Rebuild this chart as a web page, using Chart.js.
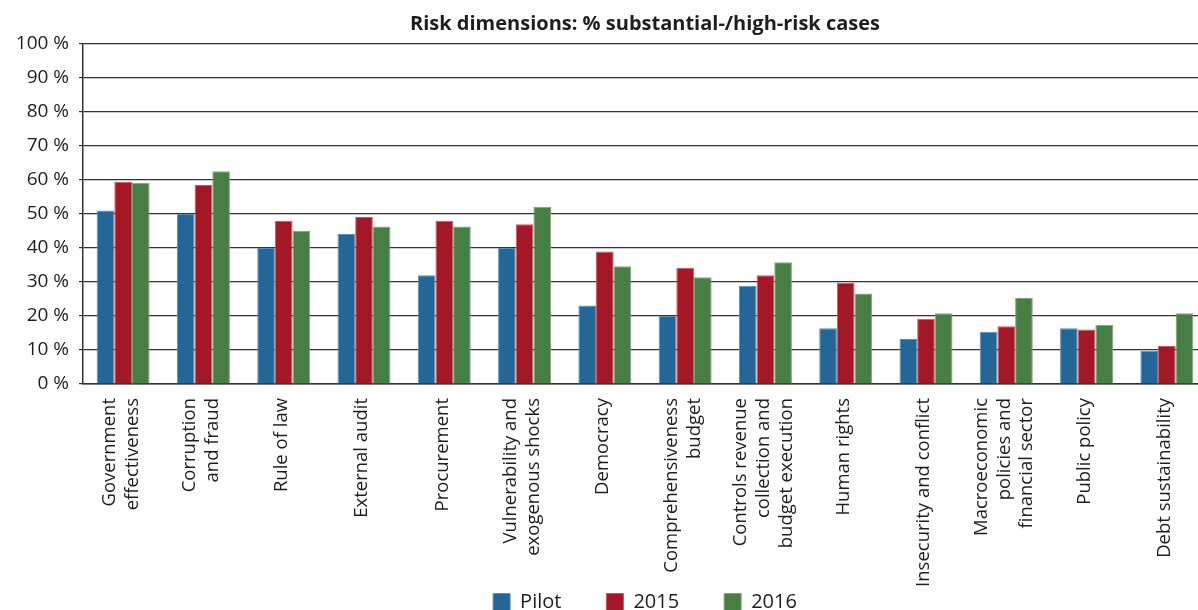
<!DOCTYPE html>
<html>
<head>
<meta charset="utf-8">
<script src="https://cdn.jsdelivr.net/npm/chart.js@4.4.1/dist/chart.umd.min.js"></script>
<style>
  html, body { margin: 0; padding: 0; overflow: hidden; background: #fff; }
  #wrap { width: 1210px; height: 622px; position: relative; }
</style>
</head>
<body>
<div id="wrap"><canvas id="risk-chart"></canvas></div>
<script>
const categories = [
  ['Government', 'effectiveness'],
  ['Corruption', 'and fraud'],
  'Rule of law',
  'External audit',
  'Procurement',
  ['Vulnerability and', 'exogenous shocks'],
  'Democracy',
  ['Comprehensiveness', 'budget'],
  ['Controls revenue', 'collection and', 'budget execution'],
  'Human rights',
  'Insecurity and conflict',
  ['Macroeconomic', 'policies and', 'financial sector'],
  'Public policy',
  'Debt sustainability'
];
const pilotValues = [51, 50, 40, 44.1, 32, 40, 23.1, 20, 28.9, 16.4, 13.2, 15.4, 16.4, 9.8];
const values2015 = [59.5, 58.5, 48, 49.1, 48, 47, 39, 34.2, 32, 29.8, 19.2, 17, 16, 11.2];
const values2016 = [59.2, 62.6, 45.1, 46.3, 46.3, 52.1, 34.6, 31.4, 35.8, 26.6, 20.8, 25.3, 17.4, 20.8];
const yMax = 100;
const yStep = 10;

Chart.defaults.font.family = "'Open Sans', sans-serif";
Chart.defaults.color = '#1e1e1e';

// rotated multi-line labels: centre the line block on the tick,
// and let the labels run down past the legend box instead of being clipped
const axisLabelFix = {
  id: 'axisLabelFix',
  afterLayout(chart) {
    chart.scales.x.bottom = chart.height;
  },
  beforeDraw(chart) {
    const items = chart.scales.x.getLabelItems(chart.chartArea);
    if (items._centred) return;
    items._centred = true;
    items.forEach(item => {
      const n = Array.isArray(item.label) ? item.label.length : 1;
      item.options.translation[0] -= (n - 1) * item.font.lineHeight / 2 + 2;
    });
  }
};

const ctx = document.getElementById('risk-chart').getContext('2d');

new Chart(ctx, {
  type: 'bar',
  data: {
    labels: categories,
    datasets: [
      { label: 'Pilot', data: pilotValues, backgroundColor: '#236799', borderColor: '#5d8fb6', borderWidth: 1 },
      { label: '2015', data: values2015, backgroundColor: '#a41726', borderColor: '#c65a64', borderWidth: 1 },
      { label: '2016', data: values2016, backgroundColor: '#487e44', borderColor: '#7ea57a', borderWidth: 1 }
    ]
  },
  options: {
    responsive: true,
    maintainAspectRatio: false,
    animation: false,
    layout: { padding: { right: 3 } },
    datasets: {
      bar: { barPercentage: 1, categoryPercentage: 0.66, borderSkipped: 'start' }
    },
    plugins: {
      title: {
        display: true,
        fullSize: false,
        text: 'Risk dimensions: % substantial-/high-risk cases',
        font: { size: 20, weight: 'bold', lineHeight: 1.2 },
        color: '#1e1e1e',
        padding: { top: 12, bottom: 8 }
      },
      legend: {
        position: 'bottom',
        fullSize: false,
        labels: {
          boxWidth: 17,
          boxHeight: 17,
          padding: 45,
          font: { size: 20 },
          color: '#1e1e1e'
        }
      },
      tooltip: { enabled: false }
    },
    scales: {
      x: {
        grid: { display: false },
        border: { display: true, color: '#333', width: 1.5 },
        ticks: {
          autoSkip: false,
          minRotation: 90,
          maxRotation: 90,
          padding: 6,
          font: { size: 18.5, lineHeight: 1.24 },
          color: '#1e1e1e'
        },
        afterFit: (scale) => { scale.height = 163; }
      },
      y: {
        min: 0,
        max: yMax,
        grid: { color: '#333', lineWidth: 1.2, tickLength: 4 },
        border: { display: true, color: '#333', width: 1.5 },
        ticks: {
          stepSize: yStep,
          padding: 10,
          font: { size: 19 },
          color: '#1e1e1e',
          callback: (v) => v + ' %'
        },
        afterFit: (scale) => { scale.width = 83; }
      }
    }
  },
  plugins: [axisLabelFix]
});
</script>
</body>
</html>
